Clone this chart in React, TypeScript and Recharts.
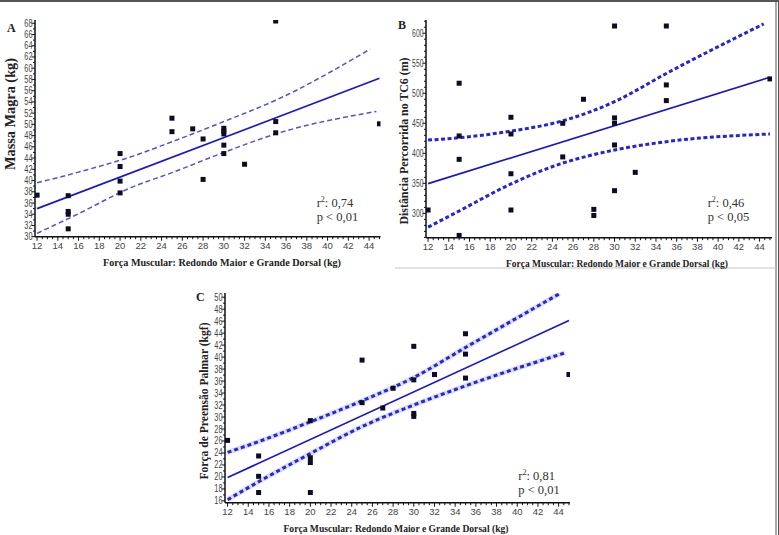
import React from 'react';
import { ComposedChart, Scatter, Line, XAxis, YAxis } from 'recharts';

type Pt = { x: number; y: number };

// eixo x comum (força muscular, kg)
const forcaTicks = [12, 14, 16, 18, 20, 22, 24, 26, 28, 30, 32, 34, 36, 38, 40, 42, 44];

// ---- Painel A: massa magra ----
const massaTicks = [30, 32, 34, 36, 38, 40, 42, 44, 46, 48, 50, 52, 54, 56, 58, 60, 62, 64, 66, 68];
const pontosA: Pt[] = [
  { x: 12, y: 37.4 }, { x: 15, y: 37.3 }, { x: 15, y: 34.5 }, { x: 15, y: 34.0 }, { x: 15, y: 31.4 },
  { x: 20, y: 44.8 }, { x: 20, y: 42.5 }, { x: 20, y: 39.9 }, { x: 20, y: 37.8 },
  { x: 25, y: 51.1 }, { x: 25, y: 48.7 }, { x: 27, y: 49.2 }, { x: 28, y: 47.4 }, { x: 28, y: 40.2 },
  { x: 30, y: 49.3 }, { x: 30, y: 48.8 }, { x: 30, y: 48.3 }, { x: 30, y: 46.3 }, { x: 30, y: 44.8 },
  { x: 32, y: 42.9 }, { x: 35, y: 68.4 }, { x: 35, y: 50.5 }, { x: 35, y: 48.5 }, { x: 45, y: 50.1 },
];
const retaA: Pt[] = [{ x: 12, y: 35.0 }, { x: 45, y: 58.2 }];
const icSupA: Pt[] = [
  { x: 12, y: 39.6 }, { x: 16, y: 41.5 }, { x: 21, y: 44.2 }, { x: 25, y: 46.9 },
  { x: 30, y: 50.5 }, { x: 35, y: 54.3 }, { x: 44.1, y: 63.4 },
];
const icInfA: Pt[] = [
  { x: 12, y: 30.6 }, { x: 16, y: 34.1 }, { x: 21, y: 38.7 }, { x: 25, y: 41.4 },
  { x: 30, y: 45.0 }, { x: 35, y: 48.3 }, { x: 44.7, y: 52.3 },
];

// ---- Painel B: distância no TC6 ----
const distTicks = [300, 350, 400, 450, 500, 550, 600];
const pontosB: Pt[] = [
  { x: 12, y: 305.6 }, { x: 15, y: 516.7 }, { x: 15, y: 428.9 }, { x: 15, y: 390 }, { x: 15, y: 263.3 },
  { x: 20, y: 460 }, { x: 20, y: 432.2 }, { x: 20, y: 366 }, { x: 20, y: 305.6 },
  { x: 25, y: 450 }, { x: 25, y: 394 }, { x: 27, y: 490 }, { x: 28, y: 306.7 }, { x: 28, y: 296.5 },
  { x: 30, y: 612 }, { x: 30, y: 459 }, { x: 30, y: 450 }, { x: 30, y: 413.9 }, { x: 30, y: 337.8 },
  { x: 32, y: 368.3 }, { x: 35, y: 612 }, { x: 35, y: 513.9 }, { x: 35, y: 487.8 }, { x: 45, y: 523.9 },
];
const retaB: Pt[] = [{ x: 12, y: 349.5 }, { x: 45, y: 526.7 }];
const icSupB: Pt[] = [
  { x: 12, y: 422 }, { x: 15, y: 426 }, { x: 20, y: 437 }, { x: 24.7, y: 452.7 },
  { x: 30, y: 486 }, { x: 35, y: 533 }, { x: 44.4, y: 615.5 },
];
const icInfB: Pt[] = [
  { x: 12, y: 277 }, { x: 15, y: 304 }, { x: 20, y: 349 }, { x: 24.7, y: 382 },
  { x: 30, y: 405.5 }, { x: 35, y: 419.4 }, { x: 45, y: 432.2 },
];

// ---- Painel C: preensão palmar ----
const preensaoTicks = [16, 18, 20, 22, 24, 26, 28, 30, 32, 34, 36, 38, 40, 42, 44, 46, 48, 50];
const pontosC: Pt[] = [
  { x: 12, y: 26.1 }, { x: 15, y: 23.5 }, { x: 15, y: 20.1 }, { x: 15, y: 17.4 },
  { x: 20, y: 29.4 }, { x: 20, y: 23.2 }, { x: 20, y: 22.4 }, { x: 20, y: 17.4 },
  { x: 25, y: 39.5 }, { x: 25, y: 32.4 }, { x: 27, y: 31.5 }, { x: 28, y: 34.8 },
  { x: 30, y: 41.8 }, { x: 30, y: 36.2 }, { x: 30, y: 30.6 }, { x: 30, y: 30.1 },
  { x: 32, y: 37.1 }, { x: 35, y: 43.9 }, { x: 35, y: 40.5 }, { x: 35, y: 36.5 }, { x: 45, y: 37.1 },
];
const retaC: Pt[] = [{ x: 12, y: 19.9 }, { x: 45, y: 46.1 }];
const icSupC: Pt[] = [
  { x: 12, y: 24.1 }, { x: 15, y: 25.9 }, { x: 20, y: 29.2 }, { x: 25, y: 32.7 },
  { x: 30, y: 36.6 }, { x: 35, y: 41.6 }, { x: 44.1, y: 50.6 },
];
const icInfC: Pt[] = [
  { x: 12, y: 16.2 }, { x: 15, y: 19.2 }, { x: 20, y: 23.9 }, { x: 25, y: 28.4 },
  { x: 30, y: 32.0 }, { x: 35, y: 35.2 }, { x: 44.6, y: 40.7 },
];

const AZUL = '#1717cf';
const SANS = '"Liberation Sans", Arial, sans-serif';
const SERIF = '"Liberation Serif", "Times New Roman", serif';

const range = (a: number, b: number, step: number) => {
  const out: number[] = [];
  for (let v = a; v <= b + 1e-9; v += step) out.push(Math.round(v * 100) / 100);
  return out;
};

const Quadrado = (props: any) => (
  <rect x={props.cx - 2.5} y={props.cy - 2.5} width={5} height={5} fill="#0c0c24" />
);

const makeXTick = (majors: number[]) => (props: any) => {
  const { x, y, payload } = props;
  const major = majors.includes(payload.value);
  return (
    <g>
      <line x1={x} y1={y} x2={x} y2={y + (major ? 4 : 2.5)} stroke="#111" strokeWidth={1} />
      {major && (
        <text x={x} y={y + 12} textAnchor="middle" fontSize={9.5} fill="#444" fontFamily={SANS}>
          {payload.value}
        </text>
      )}
    </g>
  );
};

const makeYTick = (majors: number[], largura: number) => (props: any) => {
  const { x, y, payload } = props;
  const major = majors.includes(payload.value);
  const txt = String(payload.value);
  return (
    <g>
      <line x1={x} y1={y} x2={x - (major ? 3.5 : 2)} y2={y} stroke="#111" strokeWidth={1} />
      {major && (
        <text
          x={x - 2.5}
          y={y + 3.5}
          textAnchor="end"
          fontSize={10}
          fill="#444"
          fontFamily={SANS}
          textLength={txt.length * largura}
          lengthAdjust="spacingAndGlyphs"
        >
          {txt}
        </text>
      )}
    </g>
  );
};

interface PainelProps {
  left: number;
  top: number;
  width: number;
  height: number;
  margin: { top: number; right: number; bottom: number; left: number };
  xDomain: [number, number];
  yDomain: [number, number];
  yMajor: number[];
  yMinor: number[];
  yLargura: number;
  pontos: Pt[];
  reta: Pt[];
  icSup: Pt[];
  icInf: Pt[];
  icCor: string;
  icLargura: number;
  icTraco: string;
  halo?: boolean;
}

function Painel(p: PainelProps) {
  const xMinor = range(12, 45, 0.5);
  const ciProps = {
    dataKey: 'y',
    type: 'monotone' as const,
    dot: false,
    activeDot: false,
    isAnimationActive: false,
    legendType: 'none' as const,
  };
  // eixos com 1px de espessura: a margem desconta esse 1px
  const m = { ...p.margin, left: p.margin.left - 1, bottom: p.margin.bottom - 1 };
  return (
    <div style={{ position: 'absolute', left: p.left, top: p.top }}>
      <ComposedChart width={p.width} height={p.height} margin={m}>
        <XAxis
          dataKey="x"
          type="number"
          domain={p.xDomain}
          ticks={xMinor}
          interval={0}
          tickSize={0}
          tickMargin={0}
          tickLine={false}
          height={1}
          axisLine={{ stroke: '#111', strokeWidth: 1.5 }}
          tick={makeXTick(forcaTicks)}
          allowDataOverflow
        />
        <YAxis
          dataKey="y"
          type="number"
          domain={p.yDomain}
          ticks={p.yMinor}
          interval={0}
          tickSize={0}
          tickMargin={0}
          tickLine={false}
          width={1}
          axisLine={{ stroke: '#111', strokeWidth: 1.5 }}
          tick={makeYTick(p.yMajor, p.yLargura)}
          allowDataOverflow
        />
        {p.halo && <Line {...ciProps} data={p.icSup} stroke="#dcdcf7" strokeWidth={5} />}
        {p.halo && <Line {...ciProps} data={p.icInf} stroke="#dcdcf7" strokeWidth={5} />}
        <Line {...ciProps} data={p.icSup} stroke={p.icCor} strokeWidth={p.icLargura} strokeDasharray={p.icTraco} />
        <Line {...ciProps} data={p.icInf} stroke={p.icCor} strokeWidth={p.icLargura} strokeDasharray={p.icTraco} />
        <Line {...ciProps} type="linear" data={p.reta} stroke={AZUL} strokeWidth={1.7} />
        <Scatter data={p.pontos} dataKey="y" shape={Quadrado} isAnimationActive={false} />
      </ComposedChart>
    </div>
  );
}

const Estat = ({ x, y, r2, p }: { x: number; y: number; r2: string; p: string }) => (
  <g fontFamily={SERIF} fontSize={12.5} fill="#333">
    <text x={x} y={y}>
      r<tspan dy={-5} fontSize={8}>2</tspan>
      <tspan dy={5}>: {r2}</tspan>
    </text>
    <text x={x} y={y + 14}>p &lt; {p}</text>
  </g>
);

const TITULO_X = 'Força Muscular: Redondo Maior e Grande Dorsal (kg)';

export default function App() {
  return (
    <div style={{ position: 'absolute', left: 0, top: 0, width: 779, height: 535, background: '#fff', overflow: 'hidden' }}>
      <Painel
        left={0}
        top={0}
        width={390}
        height={272}
        margin={{ top: 19.9, left: 35, right: 9.5, bottom: 35.3 }}
        xDomain={[11.8, 45.1]}
        yDomain={[30, 68.6]}
        yMajor={massaTicks}
        yMinor={range(30, 68, 1)}
        yLargura={4.1}
        pontos={pontosA}
        reta={retaA}
        icSup={icSupA}
        icInf={icInfA}
        icCor="#5050e2"
        icLargura={1.5}
        icTraco="5 3"
      />
      <Painel
        left={390}
        top={0}
        width={389}
        height={272}
        margin={{ top: 20, left: 36, right: 7, bottom: 34.3 }}
        xDomain={[11.8, 45.2]}
        yDomain={[259.5, 622]}
        yMajor={distTicks}
        yMinor={range(260, 620, 10)}
        yLargura={3.8}
        pontos={pontosB}
        reta={retaB}
        icSup={icSupB}
        icInf={icInfB}
        icCor="#2424d8"
        icLargura={3}
        icTraco="4 2.5"
      />
      <Painel
        left={180}
        top={280}
        width={420}
        height={255}
        margin={{ top: 13, left: 45, right: 30, bottom: 32.3 }}
        xDomain={[11.75, 45.1]}
        yDomain={[15.7, 50.7]}
        yMajor={preensaoTicks}
        yMinor={range(16, 50, 1)}
        yLargura={4.1}
        pontos={pontosC}
        reta={retaC}
        icSup={icSupC}
        icInf={icInfC}
        icCor="#2626d4"
        icLargura={3}
        icTraco="4 3"
        halo
      />
      <svg width={779} height={535} style={{ position: 'absolute', left: 0, top: 0, pointerEvents: 'none' }}>
        <line x1={0} y1={1} x2={779} y2={1} stroke="#555" strokeWidth={2} />
        <line x1={776} y1={0} x2={776} y2={535} stroke="#555" strokeWidth={1} />
        <line x1={778.5} y1={0} x2={778.5} y2={535} stroke="#555" strokeWidth={1} />
        <line x1={395} y1={268} x2={776} y2={268} stroke="#c4c4c4" strokeWidth={1} />

        <g fontFamily={SERIF} fontWeight="bold" fill="#222">
          <text x={7} y={32} fontSize={12}>A</text>
          <text x={398} y={29} fontSize={12}>B</text>
          <text x={196} y={301} fontSize={12}>C</text>

          <text x={10} y={114} fontSize={14} textAnchor="middle" dominantBaseline="central" transform="rotate(-90 10 114)" textLength={112} lengthAdjust="spacingAndGlyphs">
            Massa Magra (kg)
          </text>
          <text x={403} y={141} fontSize={13} textAnchor="middle" dominantBaseline="central" transform="rotate(-90 403 141)" textLength={167} lengthAdjust="spacingAndGlyphs">
            Distância Percorrida no TC6 (m)
          </text>
          <text x={203} y={401} fontSize={13} textAnchor="middle" dominantBaseline="central" transform="rotate(-90 203 401)" textLength={157} lengthAdjust="spacingAndGlyphs">
            Força de Preensão Palmar (kgf)
          </text>

          <text x={222} y={266} fontSize={11} textAnchor="middle" textLength={238} lengthAdjust="spacingAndGlyphs">
            {TITULO_X}
          </text>
          <text x={617} y={267} fontSize={11} textAnchor="middle" textLength={222} lengthAdjust="spacingAndGlyphs">
            {TITULO_X}
          </text>
          <text x={396} y={531.5} fontSize={11} textAnchor="middle" textLength={225} lengthAdjust="spacingAndGlyphs">
            {TITULO_X}
          </text>
        </g>

        <Estat x={316.7} y={207} r2="0,74" p="0,01" />
        <Estat x={707.7} y={207} r2="0,46" p="0,05" />
        <Estat x={518.3} y={479.5} r2="0,81" p="0,01" />
      </svg>
    </div>
  );
}
